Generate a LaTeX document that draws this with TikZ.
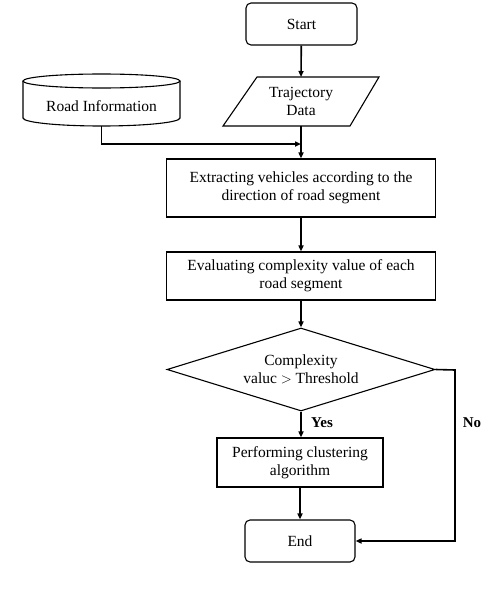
\documentclass[tikz,border=0pt]{standalone}
\usepackage{fontspec}
\setmainfont{Liberation Serif}
\usetikzlibrary{arrows.meta,shapes.geometric}
\begin{document}
\begin{tikzpicture}[x=1pt,y=-1pt,
  box/.style={draw,line width=1.1pt,align=center,font=\fontsize{15.5}{18}\selectfont,inner sep=0pt},
  term/.style={box,rounded corners=5pt},
  flow/.style={line width=1.6pt,-{Triangle[length=6pt,width=5pt]}},
  lbl/.style={font=\fontsize{15}{17}\selectfont\bfseries}]
\useasboundingbox (0,0) rectangle (488,610);

% terminals and process steps
\node[term,minimum width=111pt,minimum height=42pt] (start) at (301.5,24) {Start};
\node[box,draw=none,minimum width=100pt,minimum height=49pt] (traj) at (301,101.5) {Trajectory\\Data};
\draw[line width=1.1pt] (257,77) -- (379,77) -- (350,126) -- (223,126) -- cycle;

% road information store (cylinder)
\node[box,draw=none,minimum width=157pt,minimum height=40pt] (road) at (101.5,106) {Road Information};
\draw[line width=1.1pt] (23,81) -- (23,118) arc[start angle=180,end angle=360,x radius=78.5pt,y radius=8pt]
  -- (180,81);
\draw[line width=1.1pt] (101.5,81) ellipse[x radius=78.5pt,y radius=7pt];
\coordinate (roadbot) at (101.5,126);

\node[box,minimum width=269pt,minimum height=58pt] (extract) at (301,188) {Extracting vehicles according to the\\direction of road segment};
\node[box,minimum width=269pt,minimum height=48pt] (eval) at (301,276) {Evaluating complexity value of each\\road segment};
\node[box,diamond,aspect=3.2,minimum width=268pt,minimum height=83pt,inner sep=0pt] (dec) at (301,369.5) {Complexity\\valuc $>$ Threshold};
\node[box,minimum width=166pt,minimum height=49pt] (perf) at (300,462.5) {Performing clustering\\algorithm};
\node[term,minimum width=110pt,minimum height=42pt] (end) at (300,541) {End};

% connectors
\coordinate (join) at (301,144);
\coordinate (noturn) at (455,370);
\draw[flow] (start) -- (traj.south |- 0,77);
\draw[flow] (301,126) -- (extract);
\draw[flow] (roadbot) |- (join);
\draw[flow] (extract) -- (eval);
\draw[flow] (eval) -- (dec);
\draw[flow] (dec.south) -- (perf.north -| dec.south);
\draw[flow] (perf) -- (end);
\draw[flow] (dec.east) -- (noturn) |- (end.east);

% branch labels
\node[lbl] (yes) at (322,423) {Yes};
\node[lbl] (no) at (472,423) {No};
\end{tikzpicture}
\end{document}
